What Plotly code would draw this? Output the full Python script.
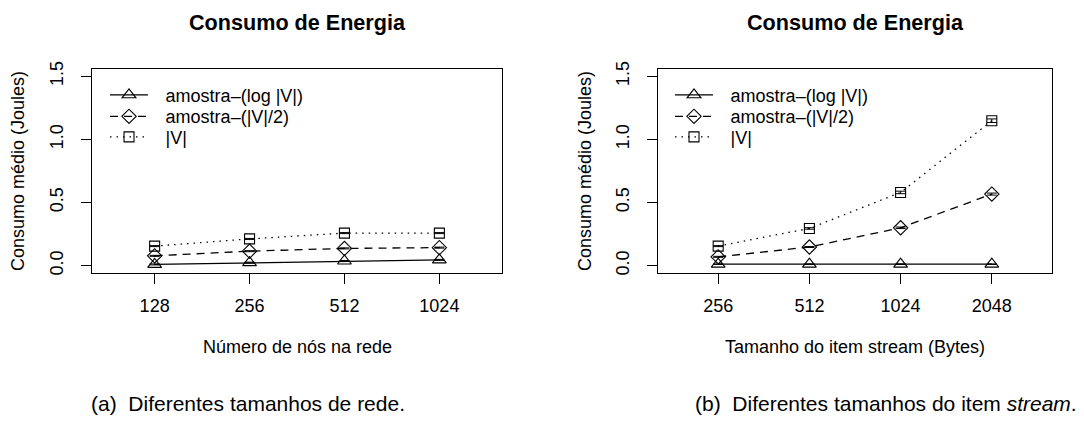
import plotly.graph_objects as go

W, H = 1084, 427

# ---- data ----
x_a_labels = ["128", "256", "512", "1024"]
x_b_labels = ["256", "512", "1024", "2048"]
series_names = ["amostra\u2013(log |V|)", "amostra\u2013(|V|/2)", "|V|"]

a_log = [0.010, 0.024, 0.037, 0.046]
a_half = [0.078, 0.115, 0.137, 0.143]
a_full = [0.155, 0.212, 0.258, 0.258]

b_log = [0.012, 0.012, 0.012, 0.012]
b_half = [0.070, 0.148, 0.300, 0.567]
b_full = [0.155, 0.295, 0.580, 1.148]

a_log_err = [0.004, 0.004, 0.004, 0.004]
a_half_err = [0.004, 0.004, 0.004, 0.004]
a_full_err = [0.004, 0.004, 0.004, 0.004]
b_log_err = [0.002, 0.002, 0.002, 0.002]
b_half_err = [0.004, 0.004, 0.006, 0.008]
b_full_err = [0.004, 0.006, 0.010, 0.014]

y_ticks = [0.0, 0.5, 1.0, 1.5]
y_ticktext = ["0.0", "0.5", "1.0", "1.5"]

FONT = "Liberation Sans, Arial, Helvetica, sans-serif"

styles = [
    dict(symbol="triangle-up-open", size=12, dash="solid"),
    dict(symbol="diamond-open", size=11, dash="8px,6px"),
    dict(symbol="square-open", size=10, dash="1.5px,5px"),
]


def px_x(v):
    return v / W


def px_y(v):
    return 1 - v / H


fig = go.Figure()

legend_rows = [90, 112, 133]
legend_ids = {}
LEG_PAD = "\u2002\u2009"


def add_panel(xref, yref, legend_names, leg_x, ys, errs):
    xs = [1, 2, 3, 4]
    for name, y, e, st, lg in zip(series_names, ys, errs, styles, legend_names):
        fig.add_trace(go.Scatter(
            x=xs, y=y, name=LEG_PAD + name, mode="lines+markers",
            xaxis=xref, yaxis=yref, legend=lg,
            line=dict(color="black", width=1.3, dash=st["dash"]),
            marker=dict(symbol=st["symbol"], size=st["size"], color="black",
                        line=dict(color="black", width=1.1)),
            error_y=dict(type="data", array=e, visible=True, color="black",
                         thickness=1, width=5),
            showlegend=True,
        ))
    for lg, row in zip(legend_names, legend_rows):
        legend_ids[lg] = (leg_x, row)


add_panel("x", "y", ["legend", "legend2", "legend3"], 105,
          [a_log, a_half, a_full], [a_log_err, a_half_err, a_full_err])
add_panel("x2", "y2", ["legend4", "legend5", "legend6"], 670,
          [b_log, b_half, b_full], [b_log_err, b_half_err, b_full_err])

axis_common = dict(
    showline=True, mirror=True, linecolor="black", linewidth=1,
    ticks="outside", ticklen=10, tickwidth=1, tickcolor="black",
    showgrid=False, zeroline=False,
    tickfont=dict(family=FONT, size=18, color="black"),
)

box_top, box_bot = 63, 272
layout = dict(
    width=W, height=H,
    margin=dict(l=0, r=0, t=0, b=0),
    paper_bgcolor="white", plot_bgcolor="white",
    font=dict(family=FONT, size=18, color="black"),
    xaxis=dict(domain=[px_x(92), px_x(502)], range=[0.34, 4.66],
               tickvals=[1, 2, 3, 4], ticktext=x_a_labels,
               ticklabelstandoff=6, anchor="y", **axis_common),
    yaxis=dict(domain=[px_y(box_bot), px_y(box_top)], range=[-0.06, 1.56],
               tickvals=y_ticks, ticktext=y_ticktext, tickangle=-90,
               ticklabelstandoff=11, anchor="x", **axis_common),
    xaxis2=dict(domain=[px_x(658), px_x(1052)], range=[0.34, 4.66],
                tickvals=[1, 2, 3, 4], ticktext=x_b_labels,
                ticklabelstandoff=6, anchor="y2", **axis_common),
    yaxis2=dict(domain=[px_y(box_bot), px_y(box_top)], range=[-0.06, 1.56],
                tickvals=y_ticks, ticktext=y_ticktext, tickangle=-90,
                ticklabelstandoff=11, anchor="x2", **axis_common),
    showlegend=True,
)
for lg, (lx, ly) in legend_ids.items():
    layout[lg] = dict(x=px_x(lx), y=px_y(ly), xanchor="left", yanchor="middle",
                      bgcolor="rgba(0,0,0,0)", borderwidth=0,
                      font=dict(family=FONT, size=18, color="black"),
                      itemwidth=38, itemsizing="trace")
fig.update_layout(**layout)

annots = [
    dict(text="<b>Consumo de Energia</b>", x=px_x(297), y=px_y(16), size=21.6),
    dict(text="<b>Consumo de Energia</b>", x=px_x(855), y=px_y(16), size=21.6),
    dict(text="Consumo médio (Joules)", x=px_x(18), y=px_y(167.5), size=18, angle=-90),
    dict(text="Consumo médio (Joules)", x=px_x(585), y=px_y(167.5), size=18, angle=-90),
    dict(text="Número de nós na rede", x=px_x(297), y=px_y(347), size=18),
    dict(text="Tamanho do item stream (Bytes)", x=px_x(855), y=px_y(347), size=18),
    dict(text="(a)  Diferentes tamanhos de rede.", x=px_x(248), y=px_y(405), size=21),
    dict(text="(b)  Diferentes tamanhos do item <i>stream</i>.", x=px_x(886), y=px_y(405), size=21),
]
for a in annots:
    fig.add_annotation(
        text=a["text"], x=a["x"], y=a["y"], xref="paper", yref="paper",
        xanchor="center", yanchor="middle", showarrow=False,
        textangle=a.get("angle", 0),
        font=dict(family=FONT, size=a["size"], color="black"),
    )

fig.write_html("out.html")
